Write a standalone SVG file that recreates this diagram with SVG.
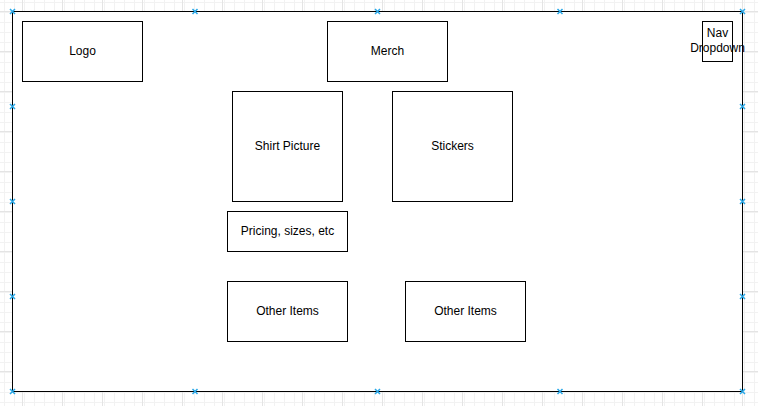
<svg xmlns="http://www.w3.org/2000/svg" width="758" height="406" viewBox="0 0 758 406">
<defs>
<pattern id="minor" width="10" height="10" patternUnits="userSpaceOnUse" x="2" y="1">
<path d="M0.5 0V10M0 0.5H10" fill="none" stroke="#f2f2f2" stroke-width="1"/>
</pattern>
<pattern id="major" width="40" height="40" patternUnits="userSpaceOnUse" x="22" y="11">
<rect width="40" height="40" fill="url(#minor)"/>
<path d="M0.5 0V40M0 0.5H40" fill="none" stroke="#e4e4e4" stroke-width="1"/>
</pattern>
<g id="mk"><path d="M-2.5 -2.5L2.5 2.5M-2.5 2.5L2.5 -2.5" stroke="#29a8e8" stroke-width="1.5"/></g>
</defs>
<style>
.box{fill:#fff;stroke:#000;stroke-width:1}
.lbl{font-family:"Liberation Sans",Arial,sans-serif;font-size:12px;fill:#000;text-anchor:middle;dominant-baseline:central}
</style>
<rect width="758" height="406" fill="#fff"/>
<rect width="758" height="406" fill="url(#major)"/>
<g id="page"><rect class="box" x="12.5" y="11.5" width="730" height="380"/></g>
<g id="logo"><rect class="box" x="22.5" y="21.5" width="120" height="60"/><text class="lbl" x="82.5" y="50.5">Logo</text></g>
<g id="merch"><rect class="box" x="327.5" y="21.5" width="120" height="60"/><text class="lbl" x="387.5" y="50.5">Merch</text></g>
<g id="nav"><rect class="box" x="702.5" y="21.5" width="30" height="40"/><text class="lbl" x="717.5" y="32.5">Nav</text><text class="lbl" x="717.5" y="47.5">Dropdown</text></g>
<g id="shirt"><rect class="box" x="232.5" y="91.5" width="110" height="110"/><text class="lbl" x="287.5" y="145.5">Shirt Picture</text></g>
<g id="stickers"><rect class="box" x="392.5" y="91.5" width="120" height="110"/><text class="lbl" x="452.5" y="145.5">Stickers</text></g>
<g id="pricing"><rect class="box" x="227.5" y="211.5" width="120" height="40"/><text class="lbl" x="287.5" y="230.5">Pricing, sizes, etc</text></g>
<g id="other1"><rect class="box" x="227.5" y="281.5" width="120" height="60"/><text class="lbl" x="287.5" y="310.5">Other Items</text></g>
<g id="other2"><rect class="box" x="405.5" y="281.5" width="120" height="60"/><text class="lbl" x="465.5" y="310.5">Other Items</text></g>
<g id="connectors"></g>
<g id="markers">
<use href="#mk" x="12.5" y="11.5"/><use href="#mk" x="195" y="11.5"/><use href="#mk" x="377.5" y="11.5"/><use href="#mk" x="560" y="11.5"/><use href="#mk" x="742.5" y="11.5"/>
<use href="#mk" x="12.5" y="391.5"/><use href="#mk" x="195" y="391.5"/><use href="#mk" x="377.5" y="391.5"/><use href="#mk" x="560" y="391.5"/><use href="#mk" x="742.5" y="391.5"/>
<use href="#mk" x="12.5" y="106.5"/><use href="#mk" x="12.5" y="201.5"/><use href="#mk" x="12.5" y="296.5"/>
<use href="#mk" x="742.5" y="106.5"/><use href="#mk" x="742.5" y="201.5"/><use href="#mk" x="742.5" y="296.5"/>
</g>
</svg>
